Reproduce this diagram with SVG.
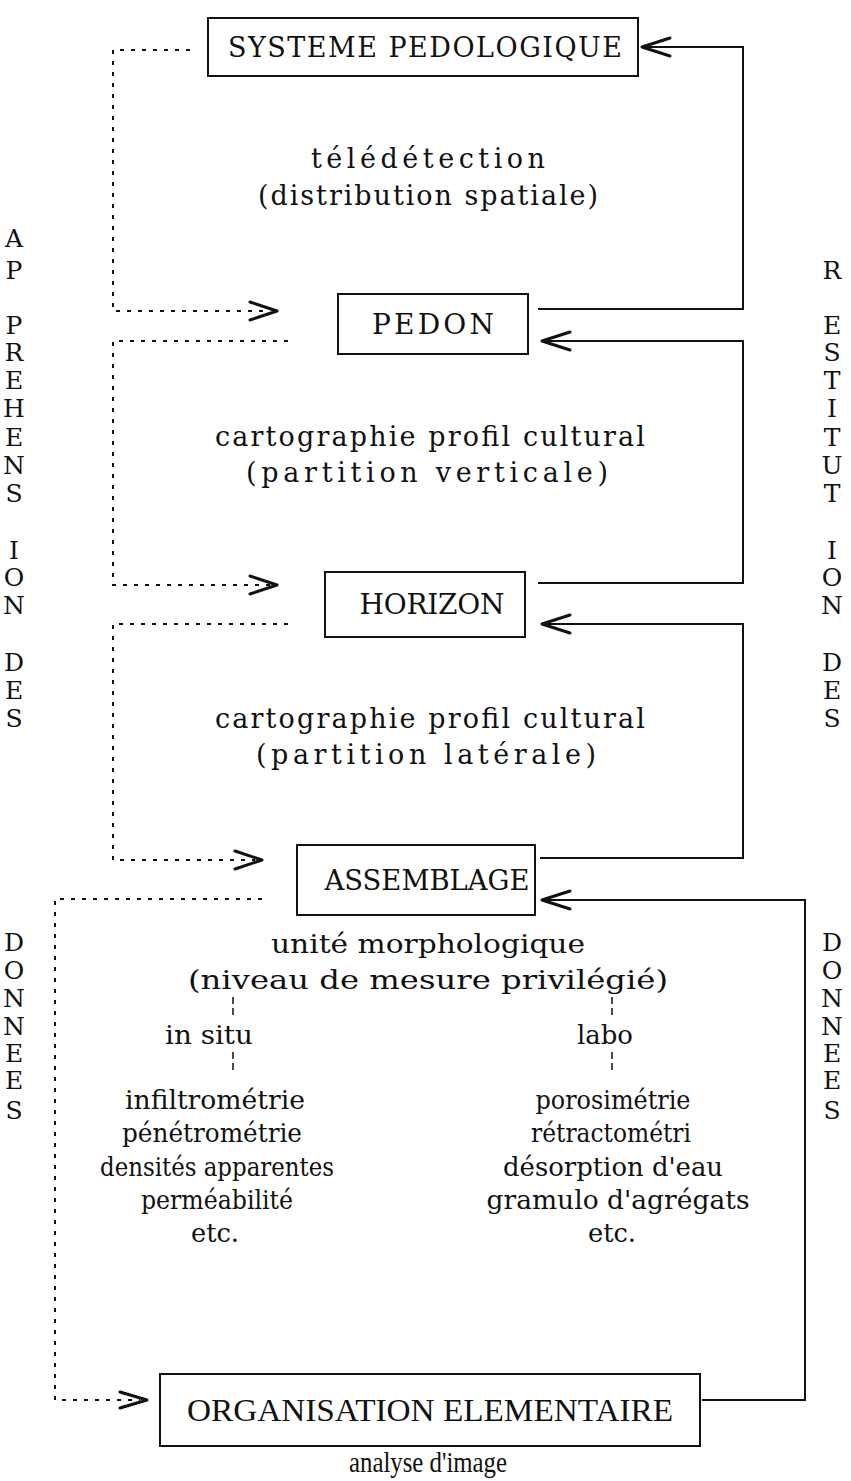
<svg xmlns="http://www.w3.org/2000/svg" width="851" height="1481" viewBox="0 0 851 1481">
<style>
.bg{fill:#fff}
.box{fill:none;stroke:#111;stroke-width:2}
.tw{font-family:"DejaVu Serif","Liberation Serif",serif;font-size:27px;fill:#111;text-anchor:middle}
.lbl{font-family:"DejaVu Serif","Liberation Serif",serif;font-size:28px;fill:#111;text-anchor:middle}
.serif{font-family:"DejaVu Serif","Liberation Serif",serif;font-size:26px;fill:#111;text-anchor:middle}
.cond{font-family:"Liberation Serif","DejaVu Serif",serif;fill:#111;text-anchor:middle}
.solid{fill:none;stroke:#111;stroke-width:2}
.dot{fill:none;stroke:#111;stroke-width:2;stroke-dasharray:4 7}
.head{fill:none;stroke:#111;stroke-width:3;stroke-linecap:round;stroke-linejoin:round}
.tick{fill:none;stroke:#111;stroke-width:1.5;stroke-dasharray:7 4}
.side{font-family:"DejaVu Serif","Liberation Serif",serif;font-size:25px;fill:#111;text-anchor:middle}
</style>
<rect class="bg" x="0" y="0" width="851" height="1481"/>

<g id="connectors">
  <path class="solid" d="M538,309 H743 V47 H642"/>
  <path class="head" d="M670,38 L642,47 L670,56"/>
  <path class="solid" d="M538,583 H743 V341 H542"/>
  <path class="head" d="M570,332 L542,341 L570,350"/>
  <path class="solid" d="M540,858 H743 V624 H542"/>
  <path class="head" d="M570,615 L542,624 L570,633"/>
  <path class="solid" d="M702,1400 H805 V900 H542"/>
  <path class="head" d="M570,891 L542,900 L570,909"/>
  <path class="dot" d="M190,50 H113 V311 H270"/>
  <path class="head" d="M250,302 L277,311 L250,320"/>
  <path class="dot" d="M288,341 H113 V585 H270"/>
  <path class="head" d="M250,576 L277,585 L250,594"/>
  <path class="dot" d="M288,624 H113 V860 H255"/>
  <path class="head" d="M235,851 L262,860 L235,869"/>
  <path class="dot" d="M262,899 H55 V1400 H140"/>
  <path class="head" d="M120,1392 L147,1400 L120,1408"/>
  <path class="tick" d="M233,997 V1017"/>
  <path class="tick" d="M233,1052 V1072"/>
  <path class="tick" d="M612,997 V1017"/>
  <path class="tick" d="M612,1052 V1072"/>
</g>

<g id="node-systeme">
  <rect class="box" x="208" y="18" width="430" height="58"/>
  <text class="tw" x="425" y="57" textLength="394" lengthAdjust="spacing">SYSTEME PEDOLOGIQUE</text>
</g>
<g id="label-teledetection">
  <text class="tw" x="428" y="168" textLength="234" lengthAdjust="spacing">télédétection</text>
  <text class="tw" x="428" y="205" textLength="340" lengthAdjust="spacing">(distribution spatiale)</text>
</g>
<g id="node-pedon">
  <rect class="box" x="338" y="294" width="190" height="60"/>
  <text class="lbl" x="433" y="334" textLength="122" lengthAdjust="spacing">PEDON</text>
</g>
<g id="label-cartoV">
  <text class="tw" x="430" y="446" textLength="430" lengthAdjust="spacing">cartographie profil cultural</text>
  <text class="tw" x="427" y="482" textLength="362" lengthAdjust="spacing">(partition verticale)</text>
</g>
<g id="node-horizon">
  <rect class="box" x="325" y="572" width="200" height="65"/>
  <text class="lbl" x="432" y="614" textLength="145" lengthAdjust="spacing">HORIZON</text>
</g>
<g id="label-cartoL">
  <text class="tw" x="430" y="728" textLength="430" lengthAdjust="spacing">cartographie profil cultural</text>
  <text class="tw" x="426" y="764" textLength="340" lengthAdjust="spacing">(partition latérale)</text>
</g>
<g id="node-assemblage">
  <rect class="box" x="297" y="845" width="238" height="70"/>
  <text class="lbl" x="427" y="890" textLength="205" lengthAdjust="spacingAndGlyphs">ASSEMBLAGE</text>
</g>
<g id="label-unite">
  <text class="serif" x="428" y="953" textLength="314" lengthAdjust="spacingAndGlyphs">unité morphologique</text>
  <text class="serif" x="428" y="989" textLength="480" lengthAdjust="spacingAndGlyphs">(niveau de mesure privilégié)</text>
  <text class="serif" x="209" y="1044" textLength="88" lengthAdjust="spacingAndGlyphs">in situ</text>
  <text class="serif" x="605" y="1044" textLength="56" lengthAdjust="spacingAndGlyphs">labo</text>
</g>
<g id="label-insitu">
  <text class="serif" x="215" y="1109" textLength="180" lengthAdjust="spacingAndGlyphs">infiltrométrie</text>
  <text class="serif" x="212" y="1142" textLength="180" lengthAdjust="spacingAndGlyphs">pénétrométrie</text>
  <text class="serif" x="217" y="1176" textLength="234" lengthAdjust="spacingAndGlyphs">densités apparentes</text>
  <text class="serif" x="217" y="1209" textLength="152" lengthAdjust="spacingAndGlyphs">perméabilité</text>
  <text class="serif" x="215" y="1242" textLength="48" lengthAdjust="spacingAndGlyphs">etc.</text>
</g>
<g id="label-labo">
  <text class="serif" x="613" y="1109" textLength="155" lengthAdjust="spacingAndGlyphs">porosimétrie</text>
  <text class="serif" x="611" y="1142" textLength="160" lengthAdjust="spacingAndGlyphs">rétractométri</text>
  <text class="serif" x="613" y="1176" textLength="220" lengthAdjust="spacingAndGlyphs">désorption d'eau</text>
  <text class="serif" x="618" y="1209" textLength="263" lengthAdjust="spacingAndGlyphs">gramulo d'agrégats</text>
  <text class="serif" x="612" y="1242" textLength="48" lengthAdjust="spacingAndGlyphs">etc.</text>
</g>
<g id="node-organisation">
  <rect class="box" x="160" y="1374" width="540" height="72"/>
  <text class="cond" x="430" y="1421" font-size="31" textLength="486" lengthAdjust="spacingAndGlyphs">ORGANISATION ELEMENTAIRE</text>
  <text class="cond" x="428" y="1472" font-size="29" textLength="158" lengthAdjust="spacingAndGlyphs">analyse d'image</text>
</g>

<g id="side-left">
  <text class="side" x="14" y="247">A</text>
  <text class="side" x="14" y="279">P</text>
  <text class="side" x="14" y="334">P</text>
  <text class="side" x="14" y="361">R</text>
  <text class="side" x="14" y="389">E</text>
  <text class="side" x="14" y="417">H</text>
  <text class="side" x="14" y="446">E</text>
  <text class="side" x="14" y="474">N</text>
  <text class="side" x="14" y="502">S</text>
  <text class="side" x="14" y="559">I</text>
  <text class="side" x="14" y="586">O</text>
  <text class="side" x="14" y="614">N</text>
  <text class="side" x="14" y="671">D</text>
  <text class="side" x="14" y="699">E</text>
  <text class="side" x="14" y="727">S</text>
  <text class="side" x="14" y="951">D</text>
  <text class="side" x="14" y="979">O</text>
  <text class="side" x="14" y="1007">N</text>
  <text class="side" x="14" y="1035">N</text>
  <text class="side" x="14" y="1062">E</text>
  <text class="side" x="14" y="1089">E</text>
  <text class="side" x="14" y="1119">S</text>
</g>
<g id="side-right">
  <text class="side" x="832" y="279">R</text>
  <text class="side" x="832" y="334">E</text>
  <text class="side" x="832" y="361">S</text>
  <text class="side" x="832" y="389">T</text>
  <text class="side" x="832" y="417">I</text>
  <text class="side" x="832" y="446">T</text>
  <text class="side" x="832" y="474">U</text>
  <text class="side" x="832" y="502">T</text>
  <text class="side" x="832" y="559">I</text>
  <text class="side" x="832" y="586">O</text>
  <text class="side" x="832" y="614">N</text>
  <text class="side" x="832" y="671">D</text>
  <text class="side" x="832" y="699">E</text>
  <text class="side" x="832" y="727">S</text>
  <text class="side" x="832" y="951">D</text>
  <text class="side" x="832" y="979">O</text>
  <text class="side" x="832" y="1007">N</text>
  <text class="side" x="832" y="1035">N</text>
  <text class="side" x="832" y="1062">E</text>
  <text class="side" x="832" y="1089">E</text>
  <text class="side" x="832" y="1119">S</text>
</g>
</svg>
